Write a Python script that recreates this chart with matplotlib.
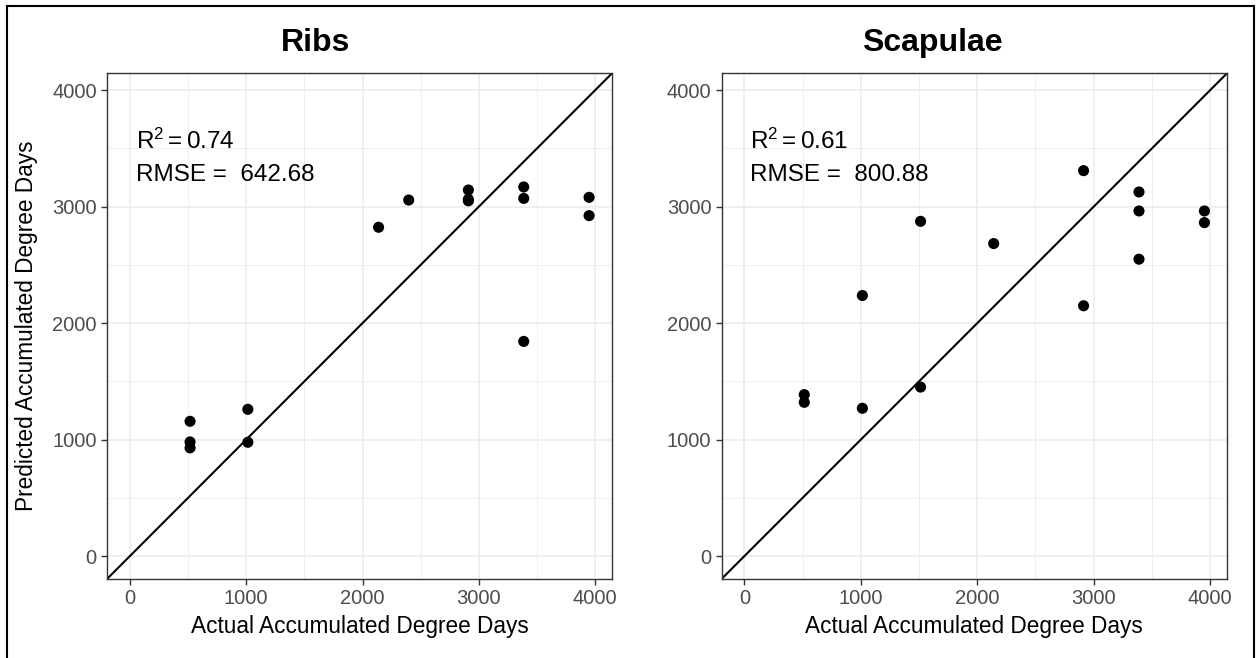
import matplotlib
matplotlib.use("Agg")
import matplotlib.pyplot as plt
from matplotlib.patches import Rectangle
from matplotlib.ticker import MultipleLocator

plt.rcParams['font.family'] = ['Liberation Sans', 'DejaVu Sans']
plt.rcParams['mathtext.fontset'] = 'custom'
plt.rcParams['mathtext.rm'] = 'Liberation Sans'
plt.rcParams['mathtext.it'] = 'Liberation Sans:italic'

# Data
ribs_actual = [2138, 2397, 2910, 2910, 2910, 3386, 3386, 3386, 3948, 3948,
               517, 517, 517, 1014, 1014]
ribs_pred = [2823, 3057, 3143, 3063, 3050, 3169, 3071, 1843, 3080, 2923,
             1157, 980, 929, 1260, 977]
scap_actual = [2913, 3389, 3389, 3389, 3951, 3951, 1513, 2141, 1013, 2913,
               514, 514, 1013, 1513]
scap_pred = [3309, 3126, 2963, 2549, 2963, 2863, 2874, 2683, 2237, 2149,
             1386, 1320, 1269, 1451]
titles = ["Ribs", "Scapulae"]
r2_labels = [r'$\mathregular{R^2 = 0.74}$', r'$\mathregular{R^2 = 0.61}$']
rmse_labels = ["RMSE =  642.68", "RMSE =  800.88"]
ticks = [0, 1000, 2000, 3000, 4000]
xlabel = "Actual Accumulated Degree Days"
ylabel = "Predicted Accumulated Degree Days"

W, H = 1257, 658
fig = plt.figure(figsize=(W / 100, H / 100), dpi=100)

def fx(px):
    return px / W

def fy(py):
    return 1 - py / H

panels = [(107, 612), (721.5, 1227)]
top, bottom = 73.3, 579
lims = (-197, 4145)
title_x = [316, 932]

datasets = [(ribs_actual, ribs_pred), (scap_actual, scap_pred)]

for i, ((l, r), (xa, ya)) in enumerate(zip(panels, datasets)):
    ax = fig.add_axes([fx(l), fy(bottom), fx(r - l), (bottom - top) / H])
    ax.set_xlim(*lims)
    ax.set_ylim(*lims)
    ax.set_xticks(ticks)
    ax.set_yticks(ticks)
    ax.xaxis.set_minor_locator(MultipleLocator(500))
    ax.yaxis.set_minor_locator(MultipleLocator(500))
    ax.grid(which='major', color='#EBEBEB', linewidth=1.1, zorder=0)
    ax.grid(which='minor', color='#EBEBEB', linewidth=0.55, zorder=0)
    ax.set_axisbelow(True)
    ax.tick_params(which='minor', length=0)
    ax.tick_params(which='major', length=4.3, width=1.0, color='#333333',
                   labelcolor='#4D4D4D', labelsize=14.5, pad=3.0)
    for s in ax.spines.values():
        s.set_color('#333333')
        s.set_linewidth(1.0)
    ax.axline((0, 0), slope=1, color='black', linewidth=1.5, zorder=2)
    ax.scatter(xa, ya, s=64, color='black', edgecolors='none', zorder=3)
    ax.text(50, 3494, r2_labels[i], fontsize=17.5, ha='left', va='baseline', color='black')
    ax.text(50, 3224, rmse_labels[i], fontsize=17.5, ha='left', va='baseline', color='black')
    fig.text(fx(title_x[i]), fy(51), titles[i], fontsize=23, fontweight='bold',
             ha='center', va='baseline')
    fig.text(fx((l + r) / 2), fy(633.5), xlabel, fontsize=16.3, ha='center', va='baseline')

fig.text(fx(27), fy((top + bottom) / 2), ylabel, fontsize=16.3, rotation=90,
         ha='center', va='center')

# outer border
fig.patches.append(Rectangle((fx(7.3), fy(700)), fx(1254 - 7.3), (700 - 6) / H,
                             transform=fig.transFigure, fill=False,
                             edgecolor='black', linewidth=1.5))

fig.savefig("out.png", dpi=100)
